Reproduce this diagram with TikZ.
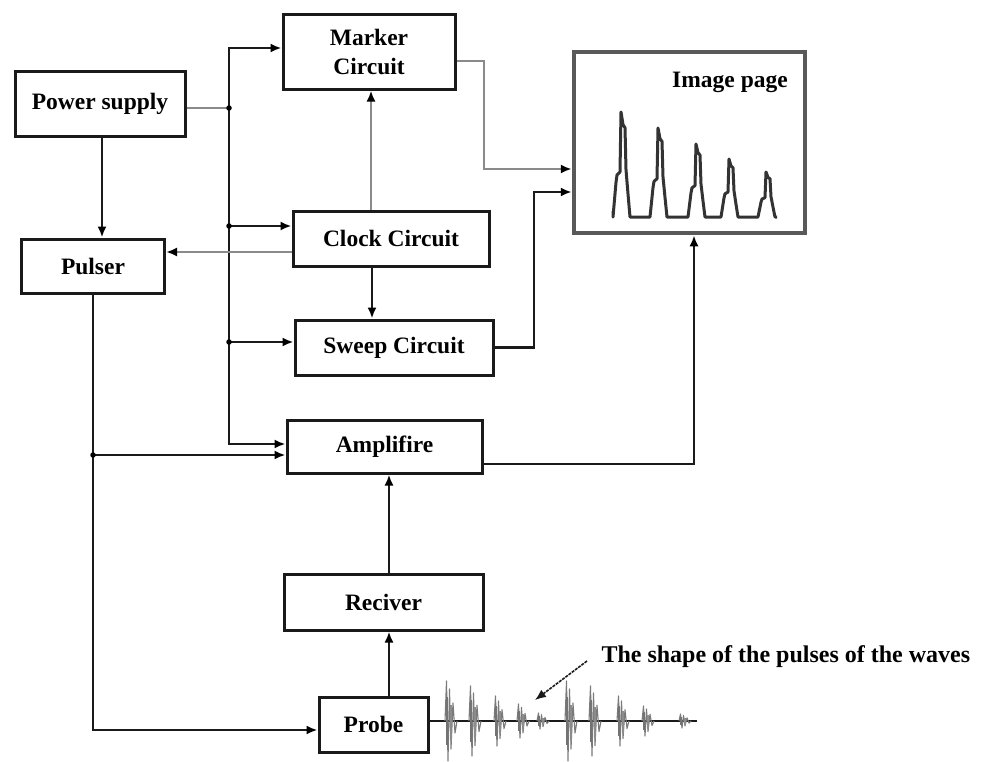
\documentclass[tikz,border=0pt]{standalone}
\usepackage{fontspec}
\setmainfont{Liberation Serif}
\usetikzlibrary{arrows.meta,calc}
\definecolor{lgray}{HTML}{8A8A8A}
\definecolor{dline}{HTML}{1A1A1A}
\definecolor{wgray}{HTML}{7A7A7A}
\begin{document}
\begin{tikzpicture}[x=1pt,y=-1pt,
  box/.style={draw=dline,line width=3pt,fill=white,inner sep=0pt,align=center,
    font=\fontsize{23.5}{29}\selectfont\bfseries,text=black},
  conn/.style={draw=dline,line width=2.6pt},
  gconn/.style={draw=lgray,line width=2.6pt},
  arr/.style={-{Latex[length=11pt,width=9pt,color=black]}},
  jdot/.style={circle,fill=black,inner sep=0pt,minimum size=5.5pt},
  wave/.style={draw=wgray,line width=1.1pt,line join=round}]
\useasboundingbox (0,0) rectangle (988,761);
\fill[white] (0,0) rectangle (988,761);

% boxes
\node[box,minimum width=170pt,minimum height=65pt] (ps) at (100,103.5) {Power supply};
\node[box,minimum width=172pt,minimum height=75pt] (marker) at (369,51.5) {Marker\\Circuit};
\node[box,minimum width=196pt,minimum height=55pt] (clock) at (391,238.5) {Clock Circuit};
\node[box,minimum width=143pt,minimum height=54pt] (pulser) at (93,266) {Pulser};
\node[box,minimum width=198pt,minimum height=55pt] (sweep) at (394,347.5) {Sweep Circuit};
\node[box,minimum width=195pt,minimum height=53pt] (amp) at (384.5,446.5) {Amplifire};
\node[box,minimum width=199pt,minimum height=56pt] (rec) at (383.5,602) {Reciver};
\node[box,minimum width=109pt,minimum height=55pt] (probe) at (373.5,724.5) {Probe};
\node[draw=black!65,line width=4.5pt,fill=white,minimum width=231pt,minimum height=181pt,inner sep=0pt] (img) at (689.5,142.5) {};
\node[font=\fontsize{23.5}{26}\selectfont\bfseries,anchor=center] (imgt) at (730,82) {Image page};

% image waveform
\draw[line width=3pt,black!80,line join=round]
  (613,211) -- (613,217)
  \foreach \c/\t [evaluate=\t as \h using 217-\t] in {622/112,659/128,697/144,730/159,767/172}{
    -- ({\c-9},217) -- ({\c-6},{217-0.33*\h}) -- ({\c-5},{217-0.4*\h}) -- ({\c-2},{217-0.43*\h})
    -- ({\c-1},\t) -- ({\c+1},{\t+0.12*\h}) -- ({\c+3},{\t+0.15*\h}) -- ({\c+4},{217-0.45*\h})
    -- ({\c+6},{217-0.22*\h}) -- ({\c+8},217)}
  -- (777,217);

% coordinates
\coordinate (bt) at (229,48);
\coordinate (bb) at (229,444);
\coordinate (j1) at (229,108);
\coordinate (j2) at (229,226);
\coordinate (j3) at (229,342);
\coordinate (cp) at (0,252);
\coordinate (cm) at (371,0);
\coordinate (m1) at (484,61);
\coordinate (m2) at (484,169);
\coordinate (s1) at (534,192);
\coordinate (a1) at (694,464);
\coordinate (pb) at (0,730);
\coordinate (ra) at (389,0);
\coordinate (jy) at (0,455);

% bus
\draw[conn,arr] (j1) -- (bt) -- (marker.west |- bt);
\draw[conn,arr] (j1) -- (bb) -- (amp.west |- bb);
\draw[gconn] (ps.east |- j1) -- (j1);
\draw[conn,arr] (j2) -- (clock.west |- j2);
\draw[conn,arr] (j3) -- (sweep.west |- j3);
\node[jdot] at (j1) {};
\node[jdot] at (j2) {};
\node[jdot] at (j3) {};

% power supply to pulser
\draw[conn,arr] ($(ps.south)+(2,0)$) -- ($(ps.south |- pulser.north)+(2,0)$);
% clock to pulser
\draw[gconn,arr] (clock.west |- cp) -- (pulser.east |- cp);
% clock to marker
\draw[gconn,arr] (clock.north -| cm) -- (marker.south -| cm);
% clock to sweep
\draw[conn,arr] ($(clock.south -| cm)+(1,0)$) -- ($(sweep.north -| cm)+(1,0)$);
% marker to image
\draw[gconn,arr] (marker.east |- m1) -- (m1) -- (m2) -- (img.west |- m2);
% sweep to image
\draw[conn,arr] (sweep.east) -| (s1) -- (img.west |- s1);
% amplifier to image
\draw[conn,arr] (amp.east |- a1) -- (a1) -- (img.south -| a1);
% pulser to probe
\draw[conn,arr] (pulser.south) -- (pulser.south |- pb) -- (probe.west |- pb);
\coordinate (j4) at (pulser.south |- jy);
\draw[conn,arr] (j4) -- (amp.west |- j4);
\node[jdot] at (j4) {};
% probe to receiver to amplifier
\draw[conn,arr] (probe.north -| ra) -- (rec.south -| ra);
\draw[conn,arr] (rec.north -| ra) -- (amp.south -| ra);

% pulses of the waves
\coordinate (wb) at (697,721);
\draw[line width=2.6pt,dline] (probe.east |- wb) -- (wb);
\foreach \c/\A in {448/40,472/35,497/25,520/17,540/8,568/40,592/35,620/25,645/15,682/7}{
  \draw[wave] ({\c-3},721) -- ({\c-1.5},{721-\A}) -- (\c,{721+\A}) -- ({\c+1.5},{721-0.8*\A})
    -- ({\c+3},{721+0.7*\A}) -- ({\c+5},{721-0.45*\A}) -- ({\c+7},{721+0.3*\A}) -- ({\c+9},721);
  \draw[wave,line width=2pt,black!55] ({\c-1},{721-0.6*\A}) -- ({\c-1},{721+0.6*\A});
  \draw[wave,line width=1.5pt,black!45] ({\c+3},{721-0.4*\A}) -- ({\c+3},{721+0.5*\A});
}
\node[font=\fontsize{24}{28}\selectfont\bfseries,anchor=west] (ann) at (598,657) {The shape of the pulses of the waves};
\coordinate (an1) at (587,661);
\coordinate (an2) at (535,700);
\draw[draw=dline,line width=1.6pt,dash pattern=on 3pt off 1pt,-{Latex[length=11pt,width=9pt]}] (an1) -- (an2);
\end{tikzpicture}
\end{document}
